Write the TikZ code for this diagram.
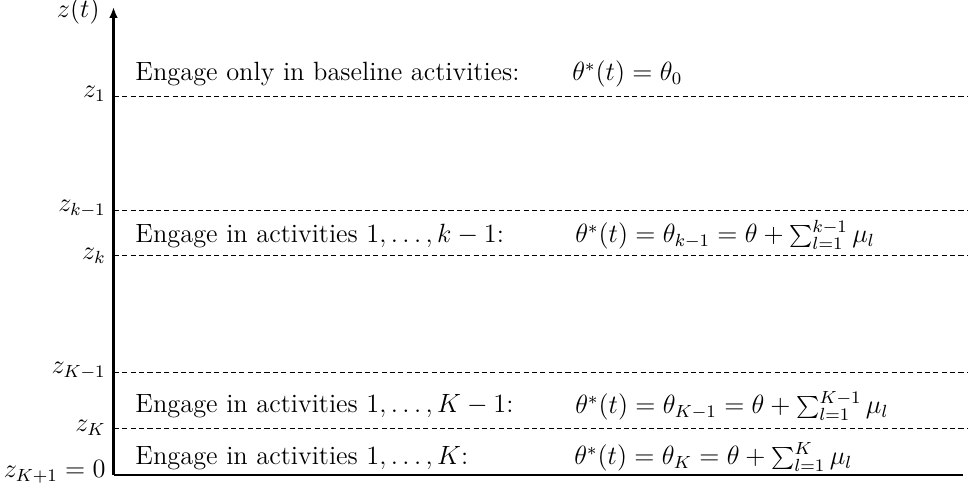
\documentclass[tikz,border=0pt]{standalone}
\usetikzlibrary{arrows.meta}
\begin{document}
\begin{tikzpicture}[x=0.4545pt,y=-0.4545pt,font=\large,
  lvl/.style={draw,dash pattern=on 2.3pt off 1.5pt,line width=0.45pt},
  ax/.style={line width=1.3pt},
  lab/.style={anchor=east,inner sep=0pt},
  txt/.style={anchor=base west,inner sep=0pt},
  eq/.style={anchor=base west,inner sep=0pt}]
\useasboundingbox (0,0) rectangle (968,487);
% axis
\coordinate (O) at (113.5,475);
\coordinate (T) at (113.5,7);
\coordinate (R) at (963,475);
\draw[ax,-{Latex[length=5pt,width=4pt]}] (O) -- (T);
\draw[line width=0.8pt] (O) -- (R);
% levels
\foreach \n/\y in {z1/97,zkm/211,zk/256,zKm/372,zK/428}{
  \coordinate (\n L) at (114,\y);
  \coordinate (\n R) at (968,\y);
  \draw[lvl] (\n L) -- (\n R);
}
% axis labels
\node[anchor=base east,inner sep=0pt] (lzt) at (100,18) {$z(t)$};
\node[lab] (lz1) at (106,94) {$z_1$};
\node[lab] (lzkm) at (106,209) {$z_{k-1}$};
\node[lab] (lzk) at (106,256) {$z_k$};
\node[lab] (lzKm) at (106,371) {$z_{K-1}$};
\node[lab] (lzK) at (106,428) {$z_K$};
\node[lab] (lz0) at (106,472) {$z_{K+1}=0$};
% texts
\node[txt] (t1) at (135,81) {Engage only in baseline activities:};
\node[eq]  (e1) at (572,81) {$\theta^*(t)=\theta_0$};
\node[txt] (t2) at (135,243) {Engage in activities $1,\ldots,k-1$:};
\node[eq]  (e2) at (575,243) {$\theta^*(t)=\theta_{k-1}=\theta+\sum_{l=1}^{k-1}\mu_l$};
\node[txt] (t3) at (135,413) {Engage in activities $1,\ldots,K-1$:};
\node[eq]  (e3) at (575,414) {$\theta^*(t)=\theta_{K-1}=\theta+\sum_{l=1}^{K-1}\mu_l$};
\node[txt] (t4) at (135,465) {Engage in activities $1,\ldots,K$:};
\node[eq]  (e4) at (574,465) {$\theta^*(t)=\theta_{K}=\theta+\sum_{l=1}^{K}\mu_l$};
\end{tikzpicture}
\end{document}
